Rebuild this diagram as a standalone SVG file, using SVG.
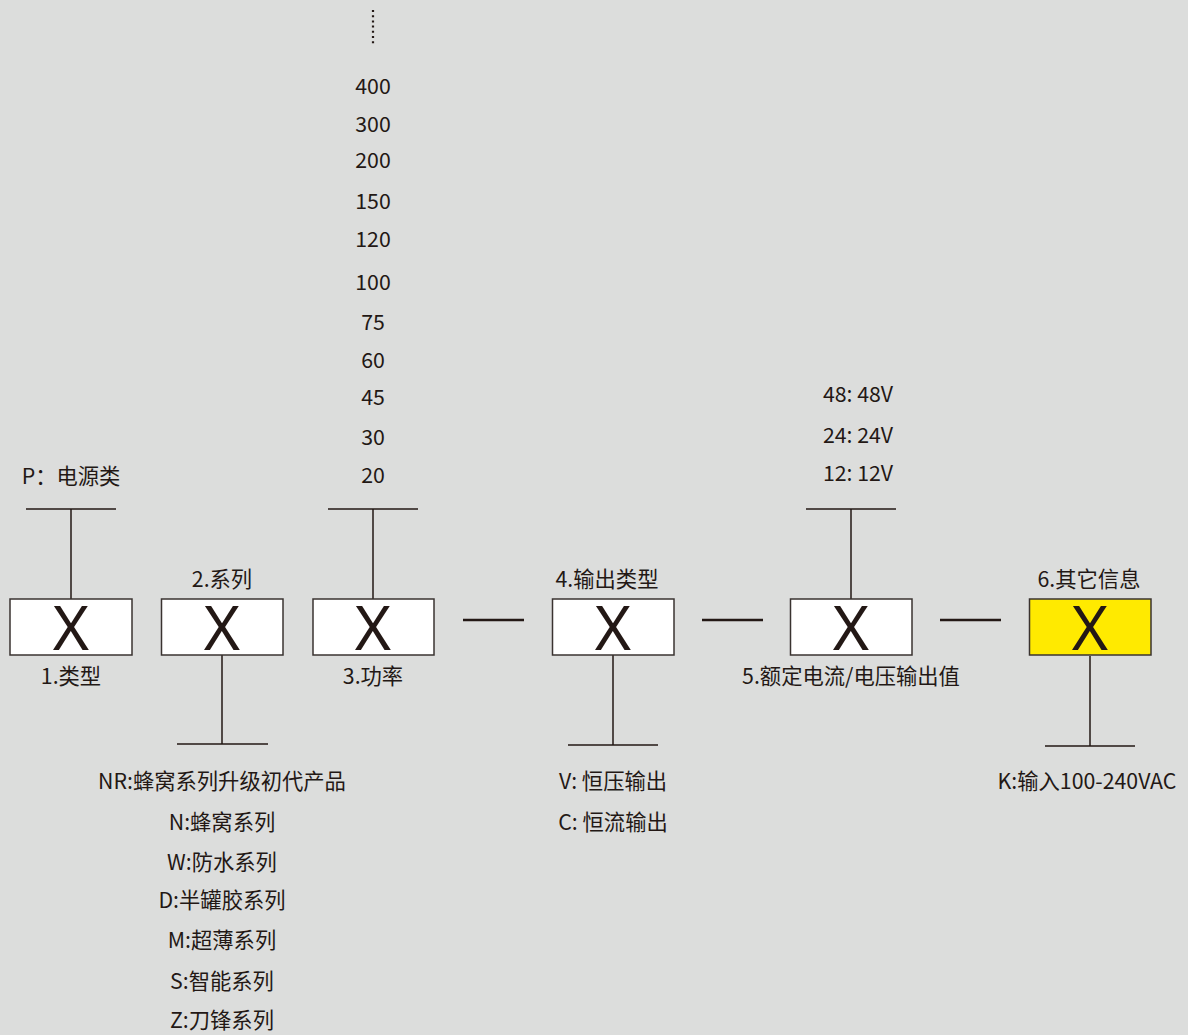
<svg xmlns="http://www.w3.org/2000/svg" width="1188" height="1035" viewBox="0 0 1188 1035">
<style>
text{font-family:"Noto Sans CJK SC","Noto Sans",sans-serif;font-size:21.3px;fill:#231815;text-anchor:middle}
.x{font-family:"Noto Sans","Open Sans",sans-serif;font-size:62px}
.box{fill:#ffffff;stroke:#3a3330;stroke-width:1.5}
.hl{fill:#ffea00}
.ln{stroke:#231815;stroke-width:1.5;fill:none}
.dash{stroke:#231815;stroke-width:2.6;fill:none}
</style>
<rect width="1188" height="1035" fill="#dcdddc"/>
<g id="connectors">
<line class="dash" x1="463" y1="620" x2="524" y2="620"/>
<line class="dash" x1="702" y1="620" x2="763" y2="620"/>
<line class="dash" x1="940" y1="620" x2="1001" y2="620"/>
<path class="ln" d="M26 509H116M71 509V599"/>
<path class="ln" d="M328 509H418M373 509V599"/>
<path class="ln" d="M806 509H896M851 509V599"/>
<path class="ln" d="M222 655V744M177 744H268"/>
<path class="ln" d="M613 655V745M568 745H658"/>
<path class="ln" d="M1090 656V746M1045 746H1135"/>
<line x1="373" y1="10" x2="373" y2="44" stroke="#231815" stroke-width="2.2" stroke-dasharray="2 3.2"/>
</g>
<g id="n1"><rect class="box" x="10" y="599" width="122" height="56"/><text class="x" x="71" y="650">X</text><text x="71" y="684">1.类型</text><text x="71" y="484">P：电源类</text></g>
<g id="n2"><rect class="box" x="161.5" y="599" width="121.5" height="56"/><text class="x" x="222" y="650">X</text><text x="222" y="587">2.系列</text>
<text x="222" y="789">NR:蜂窝系列升级初代产品</text>
<text x="222" y="830">N:蜂窝系列</text>
<text x="222" y="870">W:防水系列</text>
<text x="222" y="908">D:半罐胶系列</text>
<text x="222" y="948">M:超薄系列</text>
<text x="222" y="989">S:智能系列</text>
<text x="222" y="1028">Z:刀锋系列</text></g>
<g id="n3"><rect class="box" x="313" y="599" width="121" height="56"/><text class="x" x="373" y="650">X</text><text x="373" y="684">3.功率</text>
<text x="373" y="94">400</text><text x="373" y="132">300</text><text x="373" y="168">200</text><text x="373" y="209">150</text><text x="373" y="247">120</text><text x="373" y="290">100</text><text x="373" y="330">75</text><text x="373" y="368">60</text><text x="373" y="405">45</text><text x="373" y="445">30</text><text x="373" y="483">20</text></g>
<g id="n4"><rect class="box" x="552.5" y="599" width="121.5" height="56"/><text class="x" x="613" y="650">X</text><text x="607" y="587">4.输出类型</text>
<text x="613" y="789">V: 恒压输出</text><text x="613" y="830">C: 恒流输出</text></g>
<g id="n5"><rect class="box" x="790.5" y="599" width="121.5" height="56"/><text class="x" x="851" y="650">X</text><text x="851" y="684">5.额定电流/电压输出值</text>
<text x="858" y="402">48: 48V</text><text x="858" y="443">24: 24V</text><text x="858" y="481">12: 12V</text></g>
<g id="n6"><rect class="box hl" x="1029.5" y="599" width="121.5" height="56"/><text class="x" x="1090" y="650">X</text><text x="1089" y="587">6.其它信息</text>
<text x="1087" y="789">K:输入100-240VAC</text></g>
</svg>
